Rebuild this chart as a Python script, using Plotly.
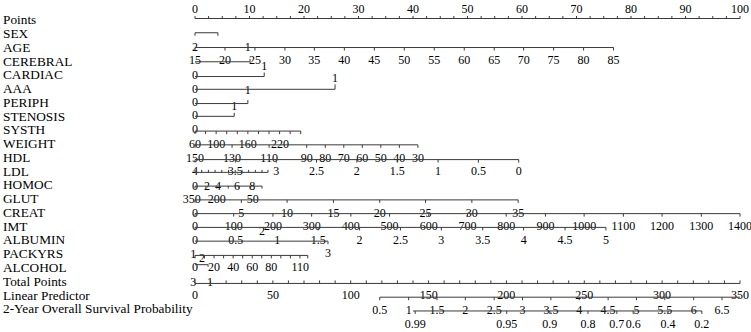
import plotly.graph_objects as go

# ---------------- data ----------------
ROW_NAMES = ["Points", "SEX", "AGE", "CEREBRAL", "CARDIAC", "AAA", "PERIPH",
             "STENOSIS", "SYSTH", "WEIGHT", "HDL", "LDL", "HOMOC", "GLUT",
             "CREAT", "IMT", "ALBUMIN", "PACKYRS", "ALCOHOL", "Total Points",
             "Linear Predictor", "2-Year Overall Survival Probability"]

POINTS_LABELS = [0, 10, 20, 30, 40, 50, 60, 70, 80, 90, 100]

AGE_LABELS = [15, 20, 25, 30, 35, 40, 45, 50, 55, 60, 65, 70, 75, 80, 85]
AGE_POINTS = [0, 5.5, 11.0, 16.5, 21.9, 27.4, 32.9, 38.4, 43.9, 49.4, 54.9, 60.3, 65.8, 71.3, 76.8]

SEX_END = 4.2
CEREBRAL_END = 10.1
CARDIAC_END = 12.7
AAA_END = 25.7
PERIPH_END = 9.7
STENOSIS_END = 7.2

AGE_ROW_TEXT = ["2", "1"]
AGE_ROW_POINTS = [0, 9.7]

WEIGHT_LABELS = [60, 100, 160, 220]
WEIGHT_POINTS = [0, 3.9, 9.7, 15.6]
WEIGHT_TICKS = [0, 1.94, 3.88, 5.82, 7.76, 9.7, 11.64, 13.58, 15.52, 17.46, 19.4]

HDL_LABELS = [150, 130, 110, 90, 80, 70, 60, 50, 40, 30]
HDL_POINTS = [0, 6.8, 13.6, 20.5, 23.9, 27.3, 30.7, 34.1, 37.5, 40.9]

LDL_LABELS = ["4", "3.5", "3", "2.5", "2", "1.5", "1", "0.5", "0"]
LDL_POINTS = [0, 7.4, 14.9, 22.3, 29.7, 37.1, 44.6, 52.0, 59.4]

HOMOC_LABELS = [0, 2, 4, 6, 8]
HOMOC_POINTS = [0, 2.2, 4.2, 7.7, 10.5]
HOMOC_TICKS = [0, 1.23, 2.46, 3.69, 4.92, 6.15, 7.38, 8.61, 9.84, 11.07, 12.3, 13.4]

GLUT_LABELS = [350, 200, 50]
GLUT_POINTS = [-0.6, 4.0, 10.6]
GLUT_TICKS = [0, 2.0, 4.0, 6.1, 8.1, 10.1, 12.3]

CREAT_LABELS = [0, 5, 10, 15, 20, 25, 30, 35]
CREAT_POINTS = [0, 8.5, 16.9, 25.4, 33.9, 42.3, 50.8, 59.3]

IMT_LABELS = [0, 100, 200, 300, 400, 500, 600, 700, 800, 900, 1000, 1100, 1200, 1300, 1400]
IMT_POINTS = [0, 7.1, 14.3, 21.4, 28.6, 35.7, 42.9, 50.0, 57.1, 64.3, 71.4, 78.6, 85.7, 92.9, 100]

ALBUMIN_LABELS = ["0", "0.5", "1", "1.5", "2", "2.5", "3", "3.5", "4", "4.5", "5"]
ALBUMIN_POINTS = [0, 7.5, 15.1, 22.6, 30.2, 37.7, 45.2, 52.8, 60.3, 67.9, 75.4]

IMT_ROW_TEXT = ["2"]
IMT_ROW_POINTS = [12.3]
ALBUMIN_END = 24.4

PACKYRS_TEXT = ["1", "2", "3"]
PACKYRS_POINTS = [-0.3, 1.3, 24.4]
PACKYRS_END = 20.7

ALCOHOL_LABELS = [0, 20, 40, 60, 80, 110]
ALCOHOL_POINTS = [0, 3.5, 7.0, 10.5, 14.0, 19.3]
ALCOHOL_TICKS = [0, 1.75, 3.5, 5.25, 7.0, 8.75, 10.5, 12.25, 14.0, 15.75, 17.5, 19.25, 20.7]
ALCOHOL_SHORT_END = 2.4

TOTAL_ROW_TEXT = ["3", "1"]
TOTAL_ROW_POINTS = [-0.3, 2.75]
TOTAL_LABELS = [0, 50, 100, 150, 200, 250, 300, 350]
TOTAL_POINTS = [0, 14.3, 28.6, 42.9, 57.1, 71.4, 85.7, 100]

LP_LABELS = ["0.5", "1", "1.5", "2", "2.5", "3", "3.5", "4", "4.5", "5", "5.5", "6", "6.5"]
LP_POINTS = [33.9, 39.2, 44.4, 49.6, 54.9, 60.1, 65.3, 70.5, 75.8, 81.0, 86.2, 91.5, 96.7]
LP_LINE = [33.9, 100]

SURV_LABELS = ["0.99", "0.95", "0.9", "0.8", "0.7", "0.6", "0.4", "0.2"]
SURV_POINTS = [40.4, 57.2, 65.1, 72.1, 77.4, 80.4, 86.8, 93.0]
SURV_LINE = [40.0, 93.0]

# ---------------- layout helpers (pixel geometry) ----------------
W, H = 751, 332
X0_PX, PX_PER_PT = 195.0, 5.45
ROW0, ROW_H = 21.0, 13.76
LINE_COL = "#3a3a3a"
FONT = "Liberation Serif, Times New Roman, serif"
LAB_SIZE = 13.3
TICK_SIZE = 12


def ry(r, d=0.0):
    return ROW0 + ROW_H * r + d


fig = go.Figure()
seg_x, seg_y = [], []


def seg(xa, ya, xb, yb):
    seg_x.extend([xa, xb, None])
    seg_y.extend([ya, yb, None])


def axis_line(p0, p1, y, ticks=(), tdir=1, tlen=3.0):
    seg(p0, y, p1, y)
    for t in ticks:
        seg(t, y, t, y + tdir * tlen)


def labels(texts, pts, y, size=TICK_SIZE):
    fig.add_trace(go.Scatter(
        x=list(pts), y=[y] * len(pts), mode="text",
        text=[str(t) for t in texts], textposition="middle center",
        textfont=dict(family=FONT, size=size, color="#000"),
        hoverinfo="skip", showlegend=False))


# row names
fig.add_trace(go.Scatter(
    x=[(3 - X0_PX) / PX_PER_PT] * len(ROW_NAMES),
    y=[ry(i) for i in range(len(ROW_NAMES))],
    mode="text", text=ROW_NAMES, textposition="middle right",
    textfont=dict(family=FONT, size=LAB_SIZE, color="#000"),
    hoverinfo="skip", showlegend=False))

# Points
labels(POINTS_LABELS, POINTS_LABELS, ry(0, -11))
axis_line(0, 100, ry(0, -2.5), [i * 2.5 for i in range(41)], tdir=-1, tlen=2.5)
# SEX
axis_line(0, SEX_END, ry(1, -2), [0, SEX_END], tdir=1, tlen=3)
# AGE
axis_line(0, AGE_POINTS[-1], ry(2, -1), AGE_POINTS, tdir=1, tlen=3)
labels(AGE_ROW_TEXT, AGE_ROW_POINTS, ry(2, -1))
# CEREBRAL
labels(AGE_LABELS, AGE_POINTS, ry(3, -1.5))
axis_line(0, CEREBRAL_END, ry(3, -0.5), [CEREBRAL_END], tdir=-1, tlen=3)
labels(["1"], [CARDIAC_END], ry(3, 4.5))
# CARDIAC
labels(["0"], [0], ry(4, -0.5))
axis_line(0, CARDIAC_END, ry(4, 0.5), [CARDIAC_END], tdir=-1, tlen=4)
labels(["1"], [AAA_END], ry(4, 2.5))
# AAA
labels(["0"], [0], ry(5, 0))
axis_line(0, AAA_END, ry(5, -0.5), [AAA_END], tdir=-1, tlen=5)
labels(["1"], [PERIPH_END], ry(5, 1))
# PERIPH
labels(["0"], [0], ry(6, -0.5))
axis_line(0, PERIPH_END, ry(6, 0), [PERIPH_END], tdir=-1, tlen=3.5)
labels(["1"], [STENOSIS_END], ry(6, 3))
# STENOSIS
labels(["0"], [0], ry(7, -1.5))
axis_line(0, STENOSIS_END, ry(7, -1), [STENOSIS_END], tdir=-1, tlen=3.5)
# SYSTH
labels(["0"], [0], ry(8, -1))
axis_line(0, WEIGHT_TICKS[-1], ry(8, 0), WEIGHT_TICKS, tdir=1, tlen=3)
# WEIGHT
labels(WEIGHT_LABELS, WEIGHT_POINTS, ry(9, 0))
axis_line(0, HDL_POINTS[-1], ry(9, 0), HDL_POINTS, tdir=1, tlen=3)
# HDL
labels(HDL_LABELS, HDL_POINTS, ry(10, 0))
axis_line(0, LDL_POINTS[-1], ry(10, 1), LDL_POINTS, tdir=1, tlen=3)
# LDL
labels(LDL_LABELS, LDL_POINTS, ry(11, 0))
axis_line(0, HOMOC_TICKS[-1], ry(11, 0), HOMOC_TICKS, tdir=-1, tlen=2.5)
# HOMOC
labels(HOMOC_LABELS, HOMOC_POINTS, ry(12, 1))
axis_line(0, GLUT_TICKS[-1], ry(12, 0), GLUT_TICKS, tdir=1, tlen=2.5)
# GLUT
labels(GLUT_LABELS, GLUT_POINTS, ry(13, 0))
axis_line(0, CREAT_POINTS[-1], ry(13, 0), CREAT_POINTS, tdir=1, tlen=3)
# CREAT
labels(CREAT_LABELS, CREAT_POINTS, ry(14, 0))
axis_line(0, IMT_POINTS[-1], ry(14, 0), IMT_POINTS, tdir=1, tlen=3)
# IMT
labels(IMT_LABELS, IMT_POINTS, ry(15, 0))
axis_line(0, ALBUMIN_POINTS[-1], ry(15, 0), ALBUMIN_POINTS, tdir=1, tlen=3)
labels(IMT_ROW_TEXT, IMT_ROW_POINTS, ry(15, 5))
# ALBUMIN
labels(ALBUMIN_LABELS, ALBUMIN_POINTS, ry(16, 0))
axis_line(0, ALBUMIN_END, ry(16, 0), [ALBUMIN_END], tdir=1, tlen=3)
# PACKYRS
labels(PACKYRS_TEXT[:1], PACKYRS_POINTS[:1], ry(17, 0))
labels(PACKYRS_TEXT[1:2], PACKYRS_POINTS[1:2], ry(17, 4))
labels(PACKYRS_TEXT[2:], PACKYRS_POINTS[2:], ry(17, -1))
axis_line(0, PACKYRS_END, ry(17, 0.5), ALCOHOL_TICKS, tdir=1, tlen=3)
# ALCOHOL
labels(ALCOHOL_LABELS, ALCOHOL_POINTS, ry(18, -1))
axis_line(0, ALCOHOL_SHORT_END, ry(18, -4), [ALCOHOL_SHORT_END], tdir=1, tlen=2)
# Total Points
labels(TOTAL_ROW_TEXT, TOTAL_ROW_POINTS, ry(19, 1))
axis_line(0, 100, ry(19, 1), [i * 100 / 35 for i in range(36)], tdir=-1, tlen=3)
# Linear Predictor
labels(TOTAL_LABELS, TOTAL_POINTS, ry(20, 0))
axis_line(LP_LINE[0], LP_LINE[1], ry(20, 1), LP_POINTS, tdir=1, tlen=3)
# Survival
labels(LP_LABELS, LP_POINTS, ry(21, 1))
axis_line(SURV_LINE[0], SURV_LINE[1], ry(21, 1), SURV_POINTS, tdir=1, tlen=3)
labels(SURV_LABELS, SURV_POINTS, ry(22, 1))

fig.add_trace(go.Scatter(x=seg_x, y=seg_y, mode="lines",
                         line=dict(color=LINE_COL, width=1),
                         hoverinfo="skip", showlegend=False))

fig.update_layout(
    width=W, height=H, margin=dict(l=0, r=0, t=0, b=0),
    paper_bgcolor="white", plot_bgcolor="white", showlegend=False,
    xaxis=dict(range=[-X0_PX / PX_PER_PT, (W - X0_PX) / PX_PER_PT],
               visible=False, fixedrange=True),
    yaxis=dict(range=[H, 0], visible=False, fixedrange=True),
)
fig.write_html("out.html", config={"displayModeBar": False},
               post_script="document.body.style.margin='0';"
                           "document.body.style.overflow='hidden';")
